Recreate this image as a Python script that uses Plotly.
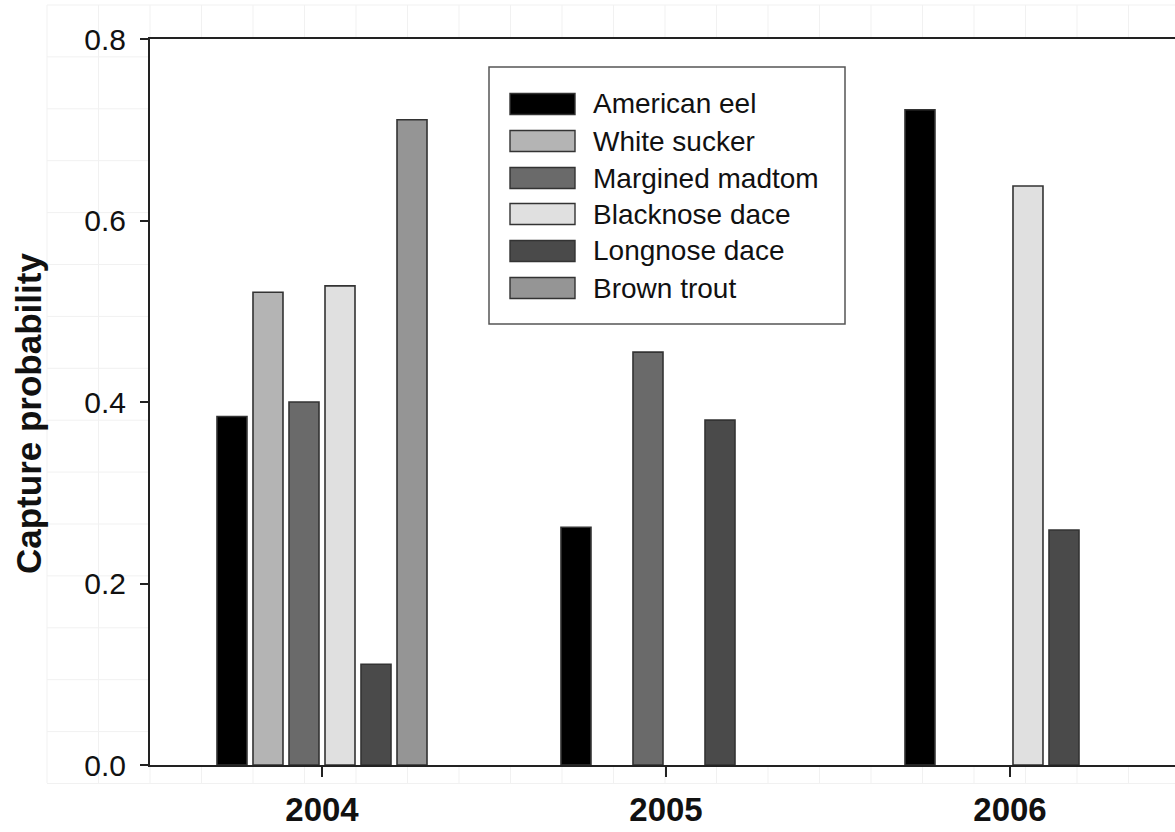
import plotly.graph_objects as go

# Capture probability by year and species
years = ["2004", "2005", "2006"]
species = ["American eel", "White sucker", "Margined madtom",
           "Blacknose dace", "Longnose dace", "Brown trout"]

american_eel = [0.384, 0.262, 0.722]
white_sucker = [0.521, None, None]
margined_madtom = [0.400, 0.455, None]
blacknose_dace = [0.528, None, 0.638]
longnose_dace = [0.111, 0.380, 0.259]
brown_trout = [0.711, None, None]

series = [american_eel, white_sucker, margined_madtom,
          blacknose_dace, longnose_dace, brown_trout]
fills = ["#000000", "#b4b4b4", "#6a6a6a", "#e0e0e0", "#4a4a4a", "#959595"]

W, H = 1175, 832
L, T, B, R = 150, 39, 67, 0
PW, PH = W - L - R, H - T - B


def px_x(x):
    return (x - L) / PW


def px_y(y):
    return (H - B - y) / PH


fig = go.Figure()
for name, vals, col in zip(species, series, fills):
    fig.add_trace(go.Bar(
        x=years, y=vals, name=name,
        marker=dict(color=col, line=dict(color="#333333", width=1.6)),
        showlegend=False,
    ))

shapes = []
# faint sheet grid around the plotting area
gx = 47.0
while gx < W:
    shapes.append(dict(type="line", xref="paper", yref="paper",
                       x0=px_x(gx), x1=px_x(gx), y0=px_y(5), y1=px_y(783),
                       line=dict(color="#f1f1f1", width=1), layer="below"))
    gx += 51.5
gy = 5.0
while gy < 790:
    shapes.append(dict(type="line", xref="paper", yref="paper",
                       x0=px_x(47), x1=1, y0=px_y(gy), y1=px_y(gy),
                       line=dict(color="#f1f1f1", width=1), layer="below"))
    gy += 51.9
shapes.append(dict(type="rect", xref="paper", yref="paper",
                   x0=0, x1=1, y0=0, y1=1,
                   fillcolor="white", line=dict(width=0), layer="below"))

# legend box
shapes.append(dict(type="rect", xref="paper", yref="paper",
                   x0=px_x(489), x1=px_x(845), y0=px_y(324), y1=px_y(67),
                   fillcolor="white", line=dict(color="#555555", width=1.5),
                   layer="above"))
annotations = []
row_y = [104, 141, 178, 214, 251, 288]
for name, col, ry in zip(species, fills, row_y):
    shapes.append(dict(type="rect", xref="paper", yref="paper",
                       x0=px_x(510), x1=px_x(575),
                       y0=px_y(ry + 10.5), y1=px_y(ry - 10.5),
                       fillcolor=col, line=dict(color="#333333", width=1.4),
                       layer="above"))
    annotations.append(dict(xref="paper", yref="paper", x=px_x(591),
                            y=px_y(ry), text=name, showarrow=False,
                            xanchor="left", yanchor="middle",
                            font=dict(family="Liberation Sans, Arial", size=28,
                                      color="#111111")))

# y-axis title
annotations.append(dict(xref="paper", yref="paper", x=px_x(29), y=px_y(414),
                        text="Capture probability", textangle=-90,
                        showarrow=False, xanchor="center", yanchor="middle",
                        font=dict(family="Liberation Sans, Arial", size=35,
                                  weight="bold", color="#111111")))

fig.update_layout(
    width=W, height=H,
    margin=dict(l=L, r=R, t=T, b=B, autoexpand=False),
    paper_bgcolor="white", plot_bgcolor="white",
    barmode="group", bargap=0.372, bargroupgap=0.167,
    shapes=shapes, annotations=annotations,
    font=dict(family="Liberation Sans, Arial", color="#111111"),
    xaxis=dict(
        range=[-0.5, 2.4797], showgrid=False, zeroline=False,
        showline=True, linecolor="#222222", linewidth=2, mirror=True,
        ticks="outside", ticklen=10, tickwidth=2, tickcolor="#222222",
        ticklabelstandoff=4, automargin=False,
        tickfont=dict(family="Liberation Sans, Arial", size=33,
                      color="#111111", weight="bold"),
    ),
    yaxis=dict(
        range=[0, 0.8], tickvals=[0, 0.2, 0.4, 0.6, 0.8], tickformat=".1f",
        showgrid=False, zeroline=False,
        showline=True, linecolor="#222222", linewidth=2,
        ticks="outside", ticklen=8, tickwidth=2, tickcolor="#222222",
        ticklabelstandoff=8, automargin=False,
        tickfont=dict(size=30, color="#111111"),
    ),
)

fig.write_html("out.html")
